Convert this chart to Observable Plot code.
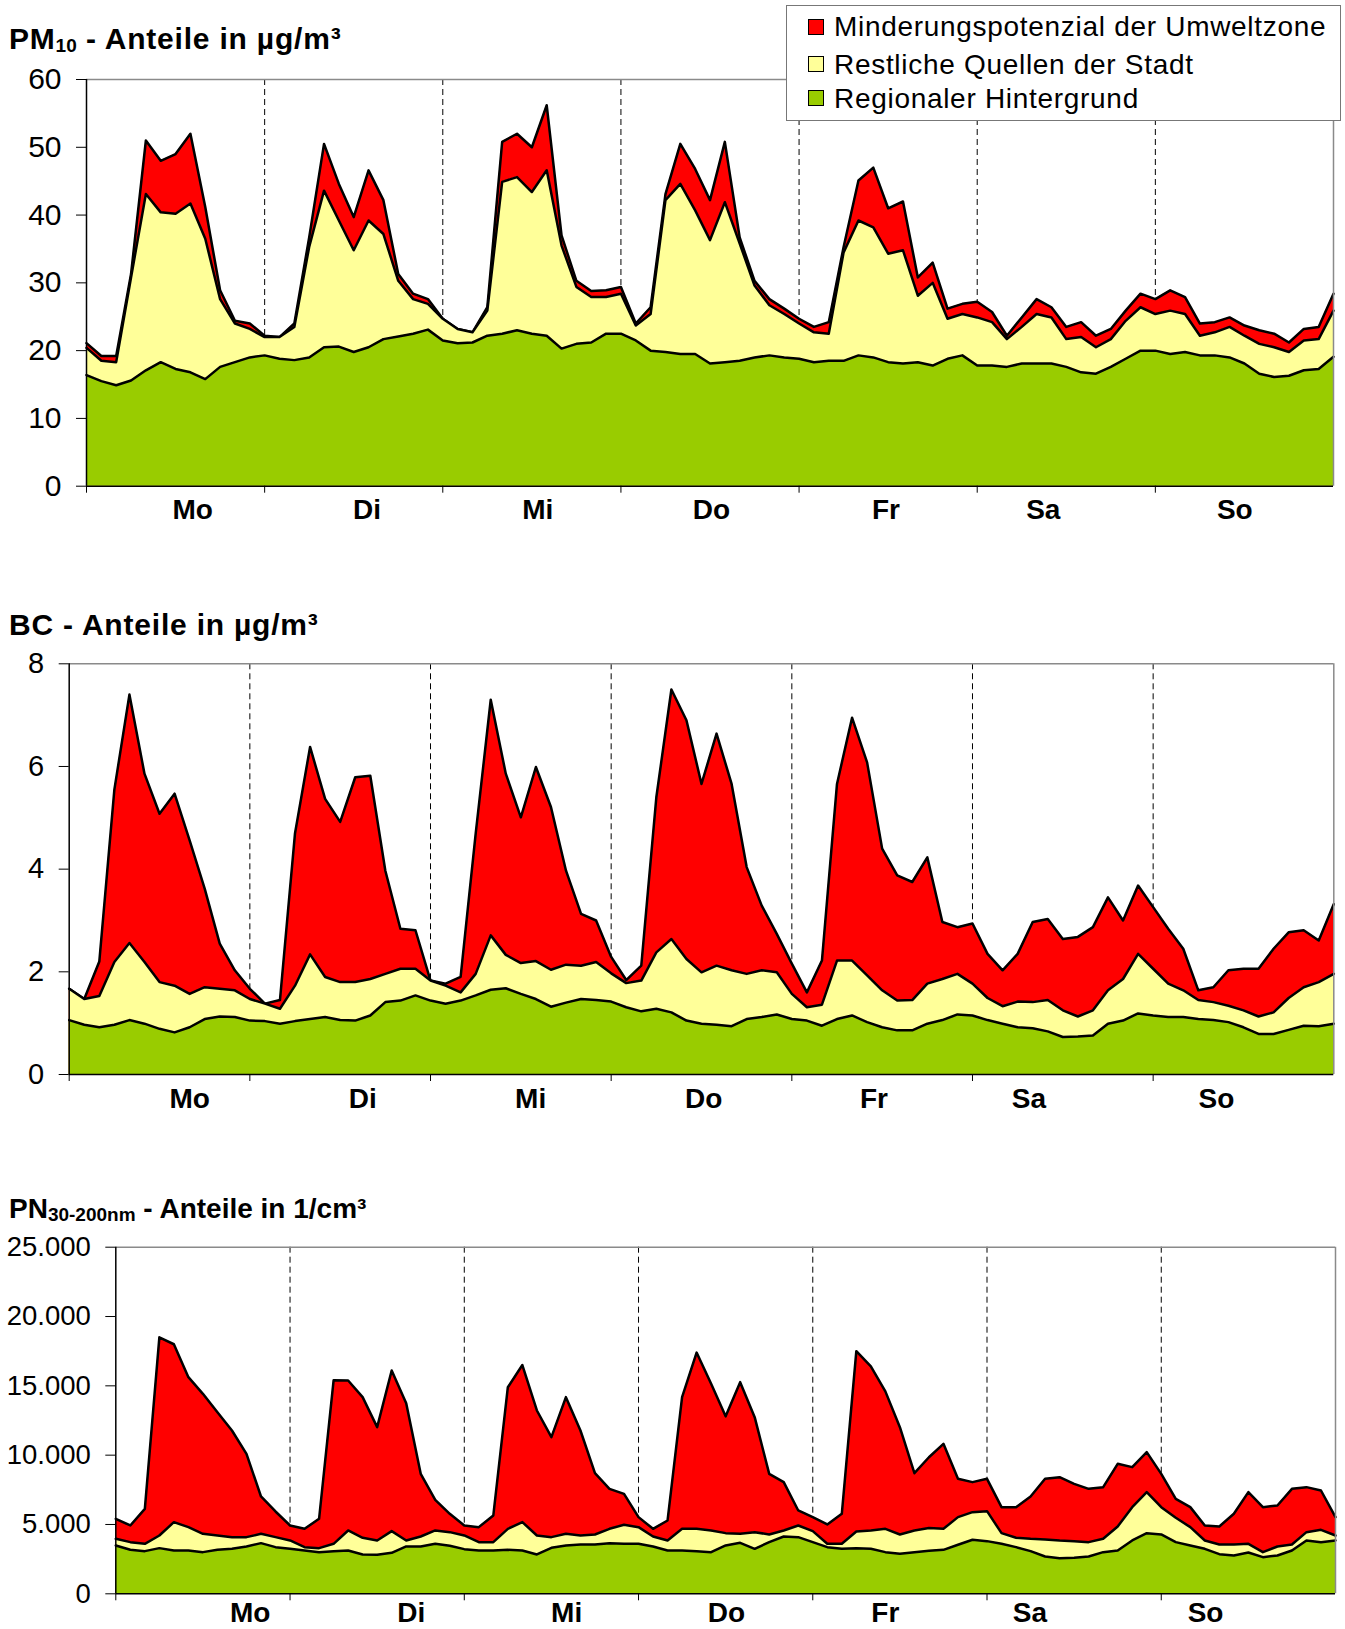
<!DOCTYPE html>
<html><head><meta charset="utf-8">
<script src="https://cdn.jsdelivr.net/npm/d3@7"></script>
<script src="https://cdn.jsdelivr.net/npm/@observablehq/plot@0.6"></script>
<style>
body{margin:0;background:#fff;}
#wrap{position:relative;width:1345px;height:1629px;overflow:hidden;font-family:"Liberation Sans",Arial,sans-serif;color:#000;}
.title{position:absolute;left:9px;font-weight:bold;white-space:nowrap;}
.title .sub{font-size:19px;position:relative;top:3px;letter-spacing:0;}
.chart{position:absolute;left:0;}
#legend{position:absolute;left:786px;top:5px;width:553px;height:114px;border:1.5px solid #777;background:#fff;}
.sw{position:absolute;left:21px;width:14px;height:14px;border:1.5px solid #000;}
.lt{position:absolute;left:47px;font-size:28px;line-height:28px;white-space:nowrap;letter-spacing:0.7px;}
</style>
</head><body><div id="wrap"></div>
<script>
// ---------- data (values every 2 hours, Mo 0h .. So 24h) ----------
const days = ["Mo","Di","Mi","Do","Fr","Sa","So"];
const seriesNames = ["Minderungspotenzial der Umweltzone","Restliche Quellen der Stadt","Regionaler Hintergrund"];
const seriesColors = ["#FF0000","#FFFF99","#99CC00"];

// PM10 (µg/m³): top of each layer
const pmTotal = [21.1,19.2,19.2,31.3,51.0,48.0,49.0,52.0,41.2,28.9,
 24.4,24.0,22.2,22.0,24.0,36.7,50.5,44.6,39.7,46.6,
 42.2,31.3,28.4,27.6,24.7,23.2,22.7,26.4,50.8,52.0,
 50.0,56.2,37.0,30.3,28.8,28.9,29.4,24.0,26.4,43.1,
 50.5,46.8,42.2,50.8,36.7,30.3,27.6,26.2,24.7,23.5,
 24.2,35.3,45.1,47.0,41.0,42.0,30.8,33.0,26.2,26.9,
 27.2,25.7,22.2,24.9,27.6,26.4,23.5,24.2,22.2,23.2,
 25.9,28.4,27.6,28.9,27.9,24.0,24.2,24.9,23.7,23.0,
 22.5,21.2,23.2,23.5,28.4];
const pmCity = [20.4,18.5,18.3,30.8,43.1,40.4,40.2,41.7,36.5,27.6,
 24.0,23.2,22.0,22.0,23.5,35.3,43.6,39.2,34.8,39.2,
 37.2,30.3,27.6,26.9,24.7,23.2,22.7,25.9,44.9,45.6,
 43.4,46.6,35.5,29.4,27.9,27.9,28.4,23.7,25.4,42.2,
 44.6,40.7,36.3,41.9,35.8,29.6,26.7,25.4,24.0,22.7,
 22.5,34.5,39.2,38.2,34.3,34.8,28.1,30.0,24.7,25.4,
 24.9,24.2,21.7,23.5,25.4,24.9,21.7,22.0,20.5,21.7,
 24.4,26.4,25.4,25.9,25.4,22.2,22.7,23.5,22.2,21.0,
 20.5,19.8,21.5,21.7,25.9];
const pmRegion = [16.4,15.5,14.9,15.6,17.1,18.3,17.3,16.8,15.8,17.6,
 18.3,19.0,19.3,18.8,18.6,19.0,20.5,20.6,19.8,20.5,
 21.7,22.1,22.5,23.1,21.5,21.1,21.2,22.2,22.5,23.0,
 22.5,22.2,20.3,21.0,21.2,22.5,22.5,21.5,20.0,19.8,
 19.5,19.5,18.1,18.3,18.5,19.0,19.3,19.0,18.8,18.3,
 18.5,18.5,19.3,19.0,18.3,18.1,18.3,17.8,18.8,19.3,
 17.8,17.8,17.6,18.1,18.1,18.1,17.6,16.8,16.6,17.6,
 18.8,20.0,20.0,19.5,19.8,19.3,19.3,19.0,18.1,16.6,
 16.1,16.3,17.1,17.3,19.1];

// BC (µg/m³)
const bcTotal = [1.67,1.47,2.20,5.55,7.40,5.86,5.08,5.47,4.56,3.62,
 2.55,2.03,1.67,1.38,1.45,4.70,6.38,5.37,4.92,5.79,
 5.82,3.97,2.84,2.81,1.83,1.77,1.90,4.69,7.30,5.86,
 5.01,5.99,5.21,3.97,3.13,3.00,2.29,1.84,2.12,5.40,
 7.50,6.90,5.66,6.64,5.66,4.04,3.29,2.74,2.16,1.60,
 2.22,5.66,6.95,6.08,4.40,3.88,3.75,4.23,2.97,2.87,
 2.94,2.35,2.03,2.35,2.97,3.03,2.64,2.68,2.87,3.45,
 3.00,3.68,3.26,2.84,2.45,1.64,1.70,2.03,2.06,2.06,
 2.45,2.77,2.81,2.61,3.32];
const bcCity = [1.67,1.47,1.53,2.19,2.56,2.19,1.80,1.73,1.57,1.70,
 1.67,1.64,1.47,1.38,1.28,1.73,2.34,1.90,1.80,1.80,
 1.86,1.96,2.06,2.06,1.83,1.73,1.60,1.96,2.71,2.33,
 2.17,2.21,2.04,2.14,2.12,2.19,1.97,1.78,1.83,2.38,
 2.64,2.25,1.99,2.12,2.03,1.96,2.03,1.99,1.57,1.31,
 1.36,2.22,2.22,1.93,1.64,1.44,1.45,1.77,1.86,1.96,
 1.77,1.49,1.33,1.42,1.41,1.45,1.25,1.13,1.25,1.64,
 1.86,2.35,2.06,1.77,1.64,1.45,1.41,1.34,1.25,1.13,
 1.21,1.49,1.70,1.80,1.96];
const bcRegion = [1.06,0.97,0.92,0.97,1.06,0.99,0.89,0.82,0.92,1.08,
 1.13,1.12,1.05,1.04,0.99,1.04,1.08,1.12,1.06,1.05,
 1.15,1.41,1.44,1.54,1.44,1.38,1.44,1.54,1.65,1.68,
 1.57,1.47,1.32,1.40,1.47,1.45,1.42,1.31,1.23,1.28,
 1.21,1.05,0.99,0.97,0.94,1.08,1.12,1.17,1.08,1.05,
 0.95,1.08,1.15,1.02,0.92,0.86,0.86,0.99,1.06,1.17,
 1.15,1.06,0.99,0.92,0.90,0.84,0.73,0.74,0.76,0.99,
 1.05,1.19,1.15,1.12,1.12,1.08,1.06,1.02,0.92,0.79,
 0.79,0.87,0.95,0.94,0.99];

// PN 30-200nm (1/cm³)
const pnTotal = [5409,4928,6130,18500,18000,15626,14424,13102,11780,10097,
 7020,5938,4928,4688,5409,15400,15386,14184,12020,16107,
 13751,8654,6779,5770,4928,4808,5649,14900,16500,13222,
 11299,14184,11780,8702,7573,7212,5529,4688,5289,14184,
 17400,15146,12800,15265,12741,8654,8053,6010,5529,5000,
 5770,17500,16400,14600,12020,8700,9850,10818,8294,8053,
 8294,6250,6250,7020,8294,8414,7933,7573,7693,9376,
 9135,10217,8654,6851,6250,4928,4856,5770,7332,6250,
 6371,7573,7693,7452,5529];
const pnCity = [3967,3726,3606,4207,5169,4808,4327,4207,4087,4087,
 4327,4087,3846,3366,3294,3606,4568,4039,3846,4520,
 3846,4135,4568,4447,4207,3726,3726,4688,5169,4207,
 4087,4327,4207,4279,4688,4976,4808,4135,3846,4688,
 4688,4568,4375,4327,4447,4279,4568,4928,4520,3606,
 3606,4495,4568,4688,4279,4568,4750,4688,5529,5890,
 5962,4375,4039,3967,3919,3846,3798,3726,3967,4856,
 6250,7332,6250,5481,4808,3846,3558,3558,3606,3005,
 3414,3558,4447,4616,4207];
const pnRegion = [3486,3173,3077,3294,3125,3125,3005,3173,3245,3414,
 3654,3366,3245,3125,3005,3077,3125,2837,2813,2957,
 3414,3414,3606,3462,3221,3125,3125,3173,3125,2837,
 3318,3486,3558,3558,3654,3606,3606,3414,3125,3125,
 3077,3005,3486,3678,3245,3726,4135,4087,3726,3366,
 3245,3294,3245,3005,2885,3005,3100,3173,3534,3895,
 3798,3606,3366,3077,2693,2572,2596,2693,3005,3125,
 3846,4375,4279,3726,3486,3245,2861,2765,2981,2644,
 2765,3125,3846,3726,3846];

// tick values and day-label positions (hour of the week)
const dayBounds = [24,48,72,96,120,144];
const dayTicks = [0,24,48,72,96,120,144];
const pmYTicks = [0,10,20,30,40,50,60];
const bcYTicks = [0,2,4,6,8];
const pnYTicks = [0,5000,10000,15000,20000,25000];
const pmDayPos = [14.3,37.8,60.8,84.2,107.7,128.9,154.7];
const bcDayPos = [16.0,39.0,61.3,84.3,106.9,127.5,152.4];
const pnDayPos = [18.5,40.7,62.1,84.1,106.0,125.9,150.1];

// ---------- build ----------
const hours = d3.range(0, 169, 2);
const rows = (t, c, r) => hours.map((h, i) => ({h, total: t[i], city: c[i], region: r[i]}));
const labelsOf = pos => days.map((d, i) => ({h: pos[i], name: d}));
const deFmt = d => d3.format(",")(d).replace(/,/g, ".");
const FONT = '"Liberation Sans", Arial, sans-serif';

function chart({data, ymax, yticks, fmt, labels, height, mt, mb, ml, mr, tickFont, labelDy}) {
  const layers = ["total","city","region"];
  const marks = [Plot.ruleX(dayBounds, {stroke: "#000", strokeWidth: 1, strokeDasharray: "6,4"})];
  layers.forEach((k, i) => {
    marks.push(Plot.areaY(data, {x: "h", y: k, fill: seriesColors[i]}));
    marks.push(Plot.lineY(data, {x: "h", y: k, stroke: "#000", strokeWidth: 2.5}));
  });
  marks.push(
    Plot.ruleY([ymax], {stroke: "#8a8a8a", strokeWidth: 1.5}),
    Plot.ruleX([168], {stroke: "#8a8a8a", strokeWidth: 1.5}),
    Plot.ruleX([0], {stroke: "#000", strokeWidth: 1.5}),
    Plot.ruleY([0], {stroke: "#000", strokeWidth: 1.5}),
    Plot.axisY({ticks: yticks, tickSize: 10, tickPadding: 15, tickFormat: fmt, fontSize: tickFont, label: null}),
    Plot.axisX({ticks: dayTicks, tickSize: 7, tickFormat: () => "", label: null}),
    Plot.text(labels, {x: "h", text: "name", frameAnchor: "bottom", dy: labelDy, fontWeight: "bold", fontSize: 28, fill: "#000"})
  );
  return Plot.plot({
    width: 1345, height,
    marginTop: mt, marginBottom: mb, marginLeft: ml, marginRight: mr,
    style: {fontFamily: FONT, fontSize: tickFont + "px", color: "#000", background: "transparent", overflow: "visible"},
    x: {domain: [0, 168], label: null},
    y: {domain: [0, ymax], label: null},
    marks
  });
}

const wrap = document.getElementById("wrap");
function place(el, top) { el.classList.add("chart"); el.style.position = "absolute"; el.style.top = top + "px"; wrap.appendChild(el); }

place(chart({data: rows(pmTotal, pmCity, pmRegion), ymax: 60, yticks: pmYTicks, fmt: d => String(d),
  labels: labelsOf(pmDayPos), height: 540, mt: 79, mb: 54.3, ml: 86, mr: 12, tickFont: 30, labelDy: 33}), 0);
place(chart({data: rows(bcTotal, bcCity, bcRegion), ymax: 8, yticks: bcYTicks, fmt: d => String(d),
  labels: labelsOf(bcDayPos), height: 560, mt: 103.3, mb: 46, ml: 68.7, mr: 11.7, tickFont: 29, labelDy: 33.5}), 560);
place(chart({data: rows(pnTotal, pnCity, pnRegion), ymax: 25000, yticks: pnYTicks, fmt: deFmt,
  labels: labelsOf(pnDayPos), height: 489, mt: 106.7, mb: 35.7, ml: 115.3, mr: 10, tickFont: 27.5, labelDy: 28.5}), 1140);

// titles
function title(html, baseline, fs, ls) {
  const d = document.createElement("div");
  d.className = "title";
  d.innerHTML = html;
  d.style.fontSize = fs + "px";
  d.style.lineHeight = fs + "px";
  d.style.letterSpacing = ls + "px";
  d.style.top = (baseline - 0.8465 * fs) + "px";
  wrap.appendChild(d);
}
title('PM<span class="sub">10</span> - Anteile in µg/m³', 49.3, 30, 0.8);
title('BC - Anteile in µg/m³', 635, 30, 0.8);
title('PN<span class="sub">30-200nm</span> - Anteile in 1/cm³', 1218.3, 28, 0);

// legend
const leg = document.createElement("div");
leg.id = "legend";
const rowCenters = [21, 58.4, 92.6];
seriesNames.forEach((n, i) => {
  const s = document.createElement("div");
  s.className = "sw";
  s.style.background = seriesColors[i];
  s.style.top = (rowCenters[i] - 8.5) + "px";
  leg.appendChild(s);
  const t = document.createElement("div");
  t.className = "lt";
  t.textContent = n;
  t.style.top = (rowCenters[i] + 10 - 0.8465 * 28) + "px";
  leg.appendChild(t);
});
wrap.appendChild(leg);
</script>
</body></html>
